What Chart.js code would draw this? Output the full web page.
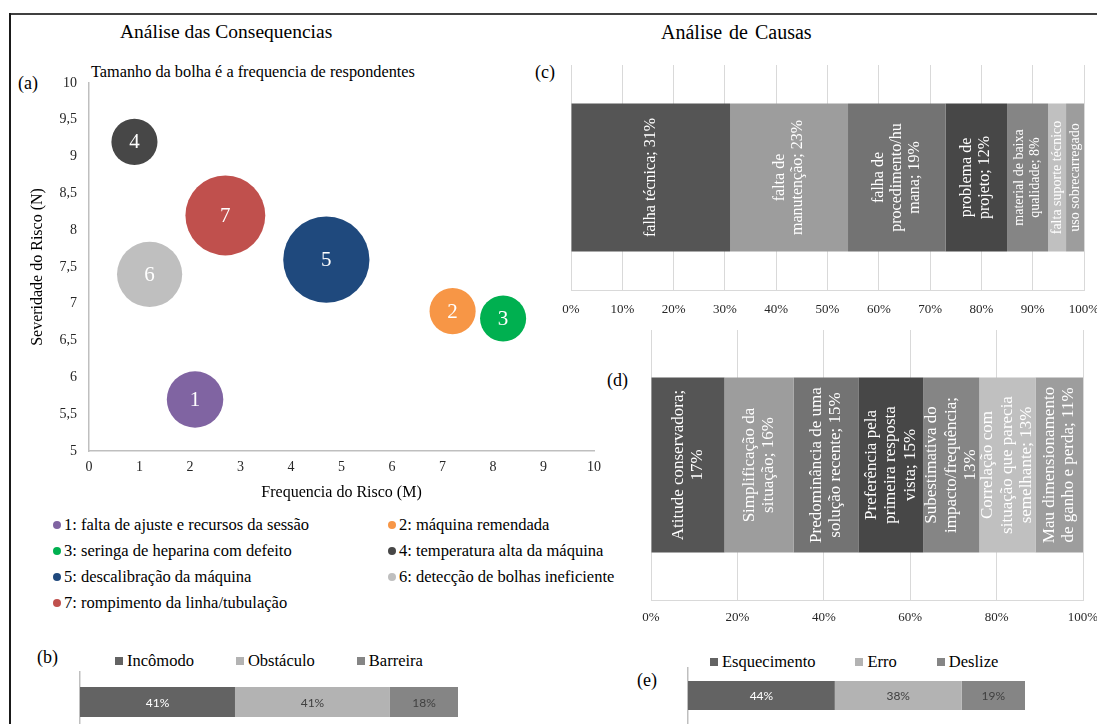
<!DOCTYPE html>
<html lang="pt">
<head>
<meta charset="utf-8">
<title>Análise das Consequencias e Análise de Causas</title>
<script src="https://cdn.jsdelivr.net/npm/chart.js@4.4.1/dist/chart.umd.min.js"></script>
<style>
  html, body { margin:0; padding:0; background:#fff; }
  body { width:1097px; height:724px; position:relative; overflow:hidden;
         font-family:"Liberation Serif","Times New Roman",serif; color:#000; }
  .panel { position:absolute; }
  .lbl { position:absolute; line-height:1; white-space:nowrap; }
  .rule { position:absolute; z-index:5; }
  .legend { position:absolute; display:flex; white-space:nowrap; font-family:"Liberation Serif","Times New Roman",serif; }
  .legend .item { display:inline-flex; align-items:center; height:26px; font-size:16.5px; line-height:26px; }
  .legend .mark { display:inline-block; width:8px; height:8px; margin-right:4px; flex:none; }
  .legend .mark.dot { border-radius:50%; margin-right:3px; }
  #legendA { display:grid; grid-template-columns:335px auto; left:53px; top:512px; }
  #legendB { left:115px; top:648px; gap:42px; }
  #legendE { left:710px; top:649px; gap:40px; }
</style>
</head>
<body>
<div class="rule" style="left:10px;top:13px;width:1087px;height:2px;background:#404040"></div>
<div class="rule" style="left:9px;top:13px;width:2px;height:711px;background:#1a1a1a"></div>

<div class="lbl" style="left:120px;top:22px;font-size:19.5px">Análise das Consequencias</div>
<div class="lbl" style="left:661px;top:22px;font-size:20px;word-spacing:2px">Análise de Causas</div>
<div class="lbl" style="left:91px;top:64px;font-size:16.3px">Tamanho da bolha é a frequencia de respondentes</div>
<div class="lbl" style="left:18px;top:74px;font-size:18px">(a)</div>
<div class="lbl" style="left:37px;top:648px;font-size:18px">(b)</div>
<div class="lbl" style="left:535px;top:63px;font-size:18px">(c)</div>
<div class="lbl" style="left:607px;top:371px;font-size:18px">(d)</div>
<div class="lbl" style="left:637px;top:671px;font-size:18px">(e)</div>

<div class="panel" style="left:0;top:60px;width:620px;height:451px"><canvas id="chartA"></canvas></div>
<div class="legend" id="legendA"></div>

<div class="panel" style="left:540px;top:40px;width:557px;height:280px"><canvas id="chartC"></canvas></div>
<div class="panel" style="left:620px;top:320px;width:477px;height:310px"><canvas id="chartD"></canvas></div>

<div class="legend" id="legendB"></div>
<div class="panel" style="left:60px;top:660px;width:420px;height:72px"><canvas id="chartB"></canvas></div>

<div class="legend" id="legendE"></div>
<div class="panel" style="left:668px;top:658px;width:377px;height:66px"><canvas id="chartE"></canvas></div>

<script>
// ---------- (a) risks: frequency x severity, bubble size = respondents ----------
const riskIds = ['1', '2', '3', '4', '5', '6', '7'];
const riskNames = [
  'falta de ajuste e recursos da sessão',
  'máquina remendada',
  'seringa de heparina com defeito',
  'temperatura alta da máquina',
  'descalibração da máquina',
  'detecção de bolhas ineficiente',
  'rompimento da linha/tubulação'
];
const riskFrequency = [2.1, 7.2, 8.2, 0.9, 4.7, 1.2, 2.7];
const riskSeverity = [5.7, 6.9, 6.8, 9.2, 7.6, 7.4, 8.2];
const riskRespondents = [3, 2, 2, 2, 7, 4, 6];
const riskColors = ['#8064A2', '#F79646', '#00B050', '#474747', '#1F497D', '#BFBFBF', '#C0504D'];

// ---------- (b) perceived impact ----------
const impactLevels = ['Incômodo', 'Obstáculo', 'Barreira'];
const impactShares = [41, 41, 18];

// ---------- (c) causes ('|' = line break, {v} = share) ----------
const causeLabels = [
  'falha técnica; {v}%',
  'falta de|manutenção; {v}%',
  'falha de|procedimento/hu|mana; {v}%',
  'problema de|projeto; {v}%',
  'material de baixa|qualidade; {v}%',
  'falta suporte técnico',
  'uso sobrecarregado'
];
const causeShares = [31, 23, 19, 12, 8, 3.5, 3.5];

// ---------- (d) cognitive biases ----------
const biasLabels = [
  'Atitude conservadora;|{v}%',
  'Simplificação da|situação; {v}%',
  'Predominância de uma|solução recente; {v}%',
  'Preferência pela|primeira resposta|vista; {v}%',
  'Subestimativa do|impacto/frequência;|{v}%',
  'Correlação com|situação que parecia|semelhante; {v}%',
  'Mau dimensionamento|de ganho e perda; {v}%'
];
const biasShares = [17, 16, 15, 15, 13, 13, 11];

// ---------- (e) error types ----------
const errorTypes = ['Esquecimento', 'Erro', 'Deslize'];
const errorShares = [44, 38, 19];

// ---------- styling ----------
const grayPalette = ['#555555', '#9d9d9d', '#737373', '#474747', '#858585', '#c0c0c0', '#9d9d9d'];
const triadPalette = ['#636363', '#b3b3b3', '#858585'];
const triadTextColors = ['#ffffff', '#404040', '#404040'];
const SERIF = '"Liberation Serif", "Times New Roman", serif';
const BUBBLE_RADIUS_PER_SQRT = 16.3;

Chart.defaults.font.family = SERIF;
Chart.defaults.color = '#262626';
Chart.defaults.animation = false;
Chart.defaults.plugins.tooltip.enabled = false;

// keep the plot rectangle fixed: no extra room for edge tick labels
function noEdgePadding(s) { s.paddingLeft = 0; s.paddingRight = 0; s.paddingTop = 0; s.paddingBottom = 0; }

// Number drawn in the middle of each bubble
const bubbleNumbers = {
  id: 'bubbleNumbers',
  afterDatasetsDraw(chart) {
    const ctx = chart.ctx;
    ctx.save();
    ctx.fillStyle = '#ffffff';
    ctx.font = '21px ' + SERIF;
    ctx.textAlign = 'center';
    ctx.textBaseline = 'middle';
    chart.data.datasets.forEach((ds, i) => {
      const pt = chart.getDatasetMeta(i).data[0];
      if (pt) ctx.fillText(riskIds[i], pt.x, pt.y + 1);
    });
    ctx.restore();
  }
};

// Rotated multi-line labels inside each stacked segment
function stackLabels(templates, cfg) {
  return {
    id: 'stackLabels',
    afterDatasetsDraw(chart) {
      const ctx = chart.ctx;
      chart.data.datasets.forEach((ds, i) => {
        const bar = chart.getDatasetMeta(i).data[0];
        if (!bar) return;
        const p = bar.getProps(['x', 'y', 'base'], true);
        const cx = (p.x + p.base) / 2;
        const w = Math.abs(p.x - p.base);
        const small = w < cfg.smallWidth;
        const size = small ? cfg.smallSize : cfg.size;
        const lh = small ? cfg.smallLine : cfg.line;
        const lines = templates[i].replace('{v}', Math.round(ds.data[0])).split('|');
        ctx.save();
        ctx.translate(cx, p.y);
        ctx.rotate(-Math.PI / 2);
        ctx.fillStyle = '#ffffff';
        ctx.font = size + 'px ' + SERIF;
        ctx.textAlign = 'center';
        ctx.textBaseline = 'middle';
        lines.forEach((t, k) => ctx.fillText(t, 0, (k - (lines.length - 1) / 2) * lh));
        ctx.restore();
      });
    }
  };
}

// Percentage printed at the centre of each segment
function valueLabels(colors) {
  return {
    id: 'valueLabels',
    afterDatasetsDraw(chart) {
      const ctx = chart.ctx;
      ctx.save();
      ctx.font = '12px Lato, "Open Sans", sans-serif';
      ctx.textAlign = 'center';
      ctx.textBaseline = 'middle';
      chart.data.datasets.forEach((ds, i) => {
        const bar = chart.getDatasetMeta(i).data[0];
        if (!bar) return;
        const p = bar.getProps(['x', 'y', 'base'], true);
        ctx.fillStyle = colors[i];
        ctx.fillText(Math.round(ds.data[0]) + '%', (p.x + p.base) / 2, p.y + 1);
      });
      ctx.restore();
    }
  };
}

// HTML legend built from the chart's own legend items
function htmlLegend(chart, el, round) {
  const items = chart.options.plugins.legend.labels.generateLabels(chart);
  el.innerHTML = '';
  items.forEach(it => {
    const item = document.createElement('span');
    item.className = 'item';
    const mark = document.createElement('span');
    mark.className = 'mark' + (round ? ' dot' : '');
    mark.style.background = it.fillStyle;
    const text = document.createElement('span');
    text.textContent = it.text;
    item.appendChild(mark);
    item.appendChild(text);
    el.appendChild(item);
  });
}

const sum = arr => arr.reduce((a, b) => a + b, 0);

// ---------- (a) bubble chart ----------
const chartA = new Chart(document.getElementById('chartA'), {
  type: 'bubble',
  data: {
    datasets: riskIds.map((id, i) => ({
      label: id + ': ' + riskNames[i],
      data: [{ x: riskFrequency[i], y: riskSeverity[i], r: BUBBLE_RADIUS_PER_SQRT * Math.sqrt(riskRespondents[i]) }],
      backgroundColor: riskColors[i],
      borderWidth: 0,
      hoverBorderWidth: 0,
      clip: false
    }))
  },
  options: {
    responsive: true,
    maintainAspectRatio: false,
    layout: { autoPadding: false, padding: { left: 0, top: 23, right: 26, bottom: 0 } },
    plugins: { legend: { display: false } },
    scales: {
      x: {
        type: 'linear', min: 0, max: 10,
        ticks: { stepSize: 1, padding: 8, font: { size: 14 } },
        grid: { drawOnChartArea: false, drawTicks: false },
        border: { color: '#bfbfbf', width: 1.5 },
        title: { display: true, text: 'Frequencia do Risco (M)', color: '#000', font: { size: 16 }, padding: { top: 0, bottom: 9 } },
        afterFit(s) { s.height = 60; noEdgePadding(s); }
      },
      y: {
        type: 'linear', min: 5, max: 10,
        ticks: { stepSize: 0.5, padding: 12, font: { size: 14 }, callback: v => String(v).replace('.', ',') },
        grid: { drawOnChartArea: false, drawTicks: false },
        border: { color: '#bfbfbf', width: 1.5 },
        title: { display: true, text: 'Severidade do Risco (N)', color: '#000', font: { size: 16 }, padding: { top: 28, bottom: 0 } },
        afterFit(s) { s.width = 89; noEdgePadding(s); }
      }
    }
  },
  plugins: [bubbleNumbers]
});
htmlLegend(chartA, document.getElementById('legendA'), true);

// ---------- 100% stacked bars (c) and (d) ----------
function stackedPercent(canvasId, labels, shares, padding, step, thickness, labelCfg) {
  return new Chart(document.getElementById(canvasId), {
    type: 'bar',
    data: {
      labels: [''],
      datasets: labels.map((t, i) => ({
        label: t.replace(/\|/g, ' '),
        data: [shares[i]],
        backgroundColor: grayPalette[i],
        borderWidth: 0,
        barPercentage: 1,
        categoryPercentage: thickness
      }))
    },
    options: {
      indexAxis: 'y',
      responsive: true,
      maintainAspectRatio: false,
      layout: { autoPadding: false, padding },
      plugins: { legend: { display: false } },
      scales: {
        x: {
          stacked: true, min: 0, max: 100,
          ticks: { stepSize: step, padding: labelCfg.tickPad, font: { size: 13 }, callback: v => v + '%' },
          grid: { color: '#d9d9d9', drawTicks: false },
          border: { color: '#d9d9d9' },
          afterFit(s) { s.height = 30; noEdgePadding(s); }
        },
        y: { stacked: true, display: false }
      }
    },
    plugins: [stackLabels(labels, labelCfg)]
  });
}

stackedPercent('chartC', causeLabels, causeShares,
  { left: 31, top: 25, right: 13, bottom: 0 }, 10, 0.658,
  { size: 16, line: 18, smallSize: 14, smallLine: 16.5, smallWidth: 50, tickPad: 12 });

stackedPercent('chartD', biasLabels, biasShares,
  { left: 31, top: 10, right: 14, bottom: 0 }, 20, 0.648,
  { size: 17, line: 19.5, smallSize: 17, smallLine: 19.5, smallWidth: 0, tickPad: 10 });

// ---------- single stacked bars (b) and (e) ----------
function triadBar(canvasId, names, shares, padding, thickness) {
  return new Chart(document.getElementById(canvasId), {
    type: 'bar',
    data: {
      labels: [''],
      datasets: names.map((n, i) => ({
        label: n,
        data: [shares[i]],
        backgroundColor: triadPalette[i],
        borderWidth: 0,
        barPercentage: 1,
        categoryPercentage: thickness
      }))
    },
    options: {
      indexAxis: 'y',
      responsive: true,
      maintainAspectRatio: false,
      layout: { autoPadding: false, padding },
      plugins: { legend: { display: false } },
      scales: {
        x: { stacked: true, display: false, min: 0, max: sum(shares) },
        y: {
          stacked: true,
          ticks: { display: false },
          grid: { drawOnChartArea: false, drawTicks: false },
          border: { color: '#bfbfbf', width: 1.5 },
          afterFit(s) { s.width = 0; noEdgePadding(s); }
        }
      }
    },
    plugins: [valueLabels(triadTextColors)]
  });
}

const chartB = triadBar('chartB', impactLevels, impactShares, { left: 20, top: 12, right: 22, bottom: 0 }, 0.5);
htmlLegend(chartB, document.getElementById('legendB'), false);

const chartE = triadBar('chartE', errorTypes, errorShares, { left: 20, top: 10, right: 20, bottom: 1 }, 0.527);
htmlLegend(chartE, document.getElementById('legendE'), false);
</script>
</body>
</html>
